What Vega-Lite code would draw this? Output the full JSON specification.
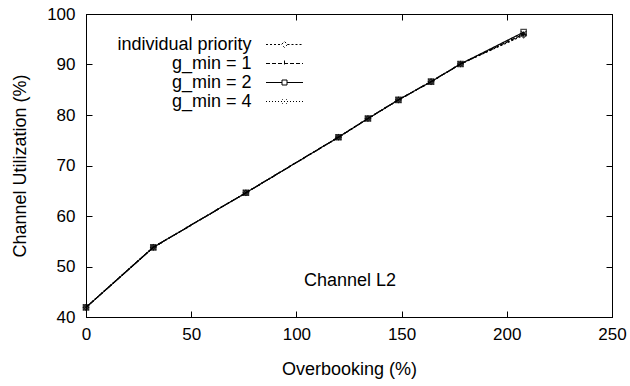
{
  "$schema": "https://vega.github.io/schema/vega-lite/v6.json",
  "width": 526,
  "height": 303,
  "autosize": {"type": "none"},
  "padding": {"left": 86, "top": 14, "right": 18, "bottom": 69},
  "background": "white",
  "config": {
    "font": "Liberation Sans",
    "view": {"stroke": "black", "strokeWidth": 1},
    "axis": {
      "domainColor": "black",
      "tickColor": "black",
      "labelColor": "black",
      "titleColor": "black",
      "grid": false,
      "labelFlush": false,
      "labelFont": "Liberation Sans",
      "titleFont": "Liberation Sans",
      "labelFontSize": 17,
      "titleFontSize": 18,
      "titleFontWeight": "normal",
      "tickSize": -6
    },
    "legend": {"labelFont": "Liberation Sans", "labelFontSize": 18}
  },
  "data": {
    "values": [
      {"series": "individual priority", "overbooking": 0, "util": 41.9},
      {"series": "individual priority", "overbooking": 32, "util": 53.8},
      {"series": "individual priority", "overbooking": 76, "util": 64.6},
      {"series": "individual priority", "overbooking": 120, "util": 75.6},
      {"series": "individual priority", "overbooking": 134, "util": 79.3},
      {"series": "individual priority", "overbooking": 148.5, "util": 83.0},
      {"series": "individual priority", "overbooking": 164, "util": 86.6},
      {"series": "individual priority", "overbooking": 178, "util": 90.1},
      {"series": "individual priority", "overbooking": 208, "util": 95.8},
      {"series": "g_min = 1", "overbooking": 0, "util": 41.9},
      {"series": "g_min = 1", "overbooking": 32, "util": 53.8},
      {"series": "g_min = 1", "overbooking": 76, "util": 64.6},
      {"series": "g_min = 1", "overbooking": 120, "util": 75.6},
      {"series": "g_min = 1", "overbooking": 134, "util": 79.3},
      {"series": "g_min = 1", "overbooking": 148.5, "util": 83.0},
      {"series": "g_min = 1", "overbooking": 164, "util": 86.6},
      {"series": "g_min = 1", "overbooking": 178, "util": 90.1},
      {"series": "g_min = 1", "overbooking": 208, "util": 96.0},
      {"series": "g_min = 2", "overbooking": 0, "util": 41.9},
      {"series": "g_min = 2", "overbooking": 32, "util": 53.8},
      {"series": "g_min = 2", "overbooking": 76, "util": 64.6},
      {"series": "g_min = 2", "overbooking": 120, "util": 75.6},
      {"series": "g_min = 2", "overbooking": 134, "util": 79.3},
      {"series": "g_min = 2", "overbooking": 148.5, "util": 83.0},
      {"series": "g_min = 2", "overbooking": 164, "util": 86.6},
      {"series": "g_min = 2", "overbooking": 178, "util": 90.1},
      {"series": "g_min = 2", "overbooking": 208, "util": 96.4},
      {"series": "g_min = 4", "overbooking": 0, "util": 41.9},
      {"series": "g_min = 4", "overbooking": 32, "util": 53.8},
      {"series": "g_min = 4", "overbooking": 76, "util": 64.6},
      {"series": "g_min = 4", "overbooking": 120, "util": 75.6},
      {"series": "g_min = 4", "overbooking": 134, "util": 79.3},
      {"series": "g_min = 4", "overbooking": 148.5, "util": 83.0},
      {"series": "g_min = 4", "overbooking": 164, "util": 86.6},
      {"series": "g_min = 4", "overbooking": 178, "util": 90.1},
      {"series": "g_min = 4", "overbooking": 208, "util": 96.1}
    ]
  },
  "resolve": {"axis": {"x": "independent", "y": "independent"}},
  "layer": [
    {
      "mark": {"type": "line", "color": "black", "strokeWidth": 1.2},
      "encoding": {
        "x": {
          "field": "overbooking", "type": "quantitative",
          "scale": {"domain": [0, 250], "nice": false},
          "axis": {"values": [0, 50, 100, 150, 200, 250], "title": "Overbooking (%)", "labelPadding": 15, "titlePadding": 18, "orient": "bottom"}
        },
        "y": {
          "field": "util", "type": "quantitative",
          "scale": {"domain": [40, 100], "nice": false, "zero": false},
          "axis": {"values": [40, 50, 60, 70, 80, 90, 100], "title": "Channel Utilization (%)", "labelPadding": 17, "titlePadding": 17, "orient": "left"}
        },
        "detail": {"field": "series"},
        "strokeDash": {
          "field": "series", "type": "nominal",
          "scale": {
            "domain": ["individual priority", "g_min = 1", "g_min = 2", "g_min = 4"],
            "range": [[2, 2], [4, 2], [1, 0], [1, 2]]
          },
          "legend": {
            "title": null,
            "orient": "none",
            "legendX": 189.5,
            "legendY": 21.5,
            "symbolSize": 100,
            "symbolStrokeColor": "black",
            "symbolStrokeWidth": 1,
            "symbolFillColor": "transparent",
            "labelAlign": "right",
            "labelOffset": -42,
            "labelColor": "black",
            "rowPadding": 1,
            "labelLimit": 300,
            "encode": {
              "symbols": {
                "update": {
                  "shape": {"signal": "datum.value === 'individual priority' ? 'M-3.7,0H-0.6L0,-0.6L0.6,0L0,0.6L-0.6,0M0.6,0H3.7' : datum.value === 'g_min = 1' ? 'M-3.7,0H3.7M0,-0.6V0.6' : datum.value === 'g_min = 2' ? 'M-3.7,0H-0.5M-0.5,-0.5H0.5V0.5H-0.5ZM0.5,0H3.7' : 'M-3.7,0H3.7M-0.5,-0.5L0.5,0.5M0.5,-0.5L-0.5,0.5'"},
                  "fill": {"value": "transparent"},
                  "stroke": {"value": "black"}
                }
              }
            }
          }
        }
      }
    },
    {
      "transform": [{"filter": "datum.series === 'individual priority'"}],
      "mark": {"type": "point", "shape": "diamond", "filled": false, "color": "black", "size": 30, "strokeWidth": 1.2},
      "encoding": {
        "x": {"field": "overbooking", "type": "quantitative", "axis": null},
        "y": {"field": "util", "type": "quantitative", "axis": null}
      }
    },
    {
      "transform": [{"filter": "datum.series === 'g_min = 1'"}],
      "mark": {"type": "point", "shape": "M-1,0H1M0,-1V1", "filled": false, "color": "black", "size": 30, "strokeWidth": 1.2},
      "encoding": {
        "x": {"field": "overbooking", "type": "quantitative", "axis": null},
        "y": {"field": "util", "type": "quantitative", "axis": null}
      }
    },
    {
      "transform": [{"filter": "datum.series === 'g_min = 2'"}],
      "mark": {"type": "point", "shape": "square", "filled": false, "color": "black", "size": 30, "strokeWidth": 1.2},
      "encoding": {
        "x": {"field": "overbooking", "type": "quantitative", "axis": null},
        "y": {"field": "util", "type": "quantitative", "axis": null}
      }
    },
    {
      "transform": [{"filter": "datum.series === 'g_min = 4'"}],
      "mark": {"type": "point", "shape": "M-1,-1L1,1M1,-1L-1,1", "filled": false, "color": "black", "size": 30, "strokeWidth": 1.2},
      "encoding": {
        "x": {"field": "overbooking", "type": "quantitative", "axis": null},
        "y": {"field": "util", "type": "quantitative", "axis": null}
      }
    },
    {
      "data": {"values": [{}]},
      "mark": {"type": "text", "font": "Liberation Sans", "fontSize": 18, "color": "black"},
      "encoding": {
        "x": {"datum": 125.5, "type": "quantitative", "axis": {"orient": "top", "values": [0, 50, 100, 150, 200, 250], "labels": false, "title": null}},
        "y": {"datum": 47.1, "type": "quantitative", "axis": {"orient": "right", "values": [40, 50, 60, 70, 80, 90, 100], "labels": false, "title": null}},
        "text": {"value": "Channel L2"}
      }
    }
  ]
}
